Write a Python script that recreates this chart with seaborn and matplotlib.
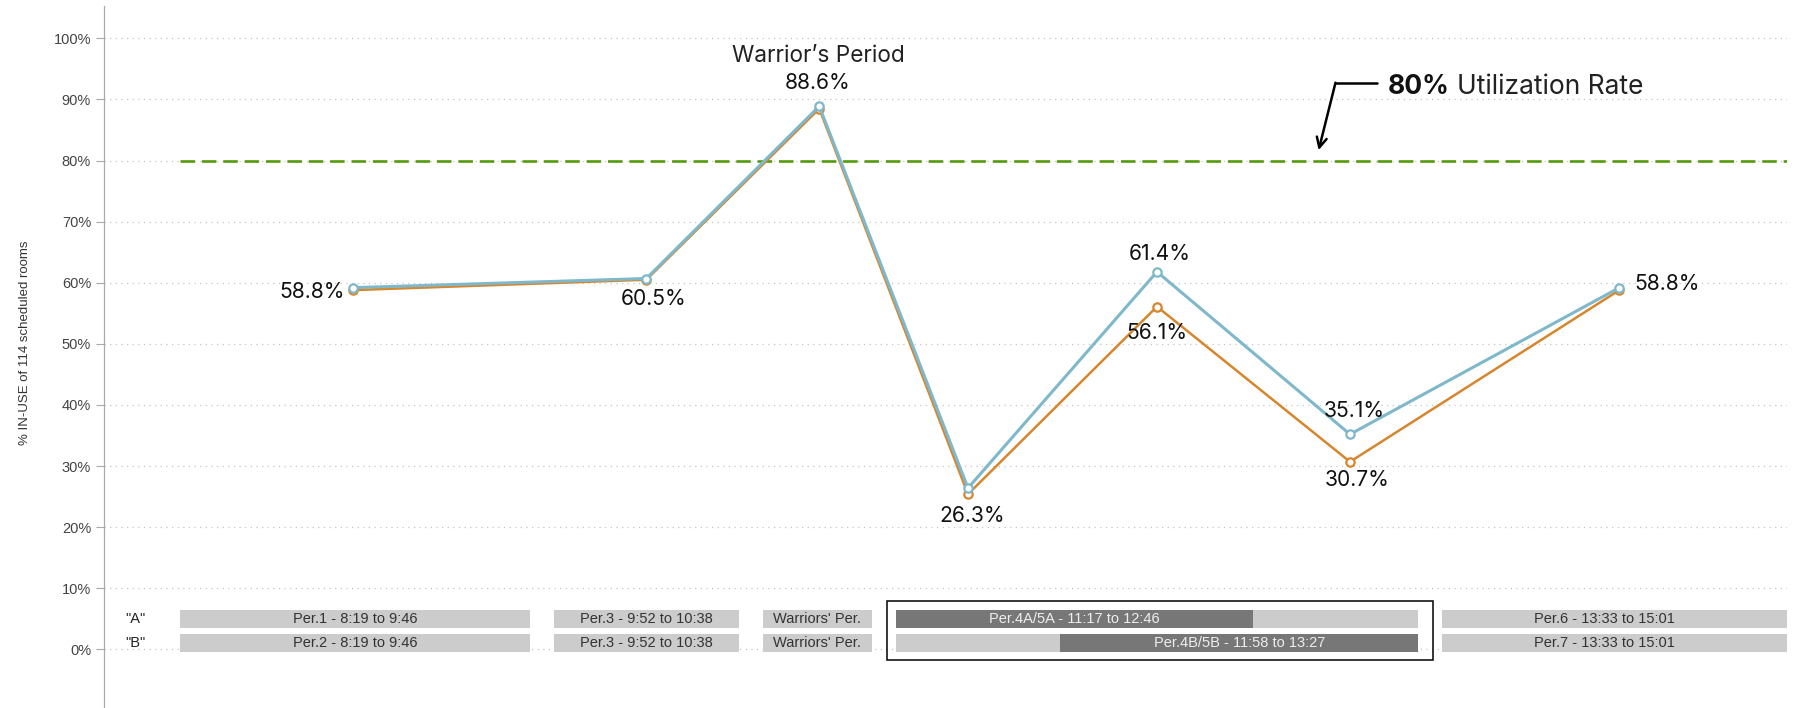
import numpy as np
import pandas as pd
import matplotlib
matplotlib.use('Agg')
import matplotlib.pyplot as plt
from matplotlib.patches import Rectangle
import seaborn as sns

# class periods where the room counts were taken (clock time)
point_times = ['9:02', '10:15', '10:58', '11:35', '12:22', '13:10', '14:17']
util_blue = [59.2, 60.7, 88.9, 26.4, 61.8, 35.2, 59.2]
util_orange = [58.8, 60.5, 88.5, 25.4, 56.1, 30.7, 58.8]

value_labels = ['58.8%', '60.5%', '88.6%', '26.3%', '61.4%', '56.1%', '35.1%', '30.7%', '58.8%']
label_point = [0, 1, 2, 3, 4, 4, 5, 5, 6]
label_series = ['blue', 'orange', 'blue', 'orange', 'blue', 'orange', 'blue', 'orange', 'blue']

# bell schedule rows "A" / "B"
sched_row = ['A', 'A', 'A', 'A', 'A', 'A',
             'B', 'B', 'B', 'B', 'B', 'B']
sched_start = ['8:19', '9:52', '10:44', '11:17', '11:17', '13:33',
               '8:19', '9:52', '10:44', '11:17', '11:58', '13:33']
sched_end = ['9:46', '10:38', '11:11', '13:27', '12:46', '15:01',
             '9:46', '10:38', '11:11', '13:27', '13:27', '15:01']
sched_dark = [False, False, False, False, True, False,
              False, False, False, False, True, False]
sched_label = ['Per.1 - 8:19 to 9:46', 'Per.3 - 9:52 to 10:38', "Warriors' Per.", '',
               'Per.4A/5A - 11:17 to 12:46', 'Per.6 - 13:33 to 15:01',
               'Per.2 - 8:19 to 9:46', 'Per.3 - 9:52 to 10:38', "Warriors' Per.", '',
               'Per.4B/5B - 11:58 to 13:27', 'Per.7 - 13:33 to 15:01']

target_rate = 80
y_ticks = list(range(0, 101, 10))


def to_min(t):
    h, m = t.split(':')
    return int(h) * 60 + int(m)


sns.set_style('white')
plt.rcParams['font.family'] = ['Liberation Sans', 'DejaVu Sans']
LABEL_FONT = ['Inter', 'DejaVu Sans']

df = pd.DataFrame({
    'time': [to_min(t) for t in point_times] * 2,
    'util': util_orange + util_blue,
    'series': ['orange'] * len(point_times) + ['blue'] * len(point_times),
})
series_vals = {'blue': util_blue, 'orange': util_orange}

fig = plt.figure(figsize=(17.98, 7.08), dpi=100)
ax = fig.add_axes([0.0576, 0.0, 0.9363, 0.9915])

XMIN, XMAX = 480, 898.7
ax.set_xlim(XMIN, XMAX)
ax.set_ylim(-9.6, 105.3)

# dotted grid
for v in y_ticks:
    ax.axhline(v, color='#c4c4c4', lw=0.9, ls=(0, (1, 3.5)), zorder=0)

# 80% target
ax.hlines(target_rate, to_min('8:19'), XMAX, color='#559a0c', lw=1.9,
          linestyles=[(0, (5.5, 2.6))], zorder=1)

# schedule bars
row_y = {'A': 5, 'B': 1}
for r, s, e, dark, lab in zip(sched_row, sched_start, sched_end, sched_dark, sched_label):
    s0, e0 = to_min(s), to_min(e)
    ax.barh(row_y[r], e0 - s0, left=s0, height=3.0,
            color='#777777' if dark else '#cccccc', edgecolor='none', zorder=2)
    if lab:
        cx = (s0 + min(e0, XMAX)) / 2 - (2.5 if e0 > XMAX else 0)
        ax.text(cx, row_y[r], lab, ha='center', va='center', fontsize=10.5,
                color='#eeeeee' if dark else '#333333', zorder=3)

for r in ['A', 'B']:
    ax.text(488, row_y[r], '"%s"' % r, ha='center', va='center', fontsize=10.5, color='#222222')

box_l, box_r = to_min('11:17') - 2.2, to_min('13:27') + 3.6
ax.add_patch(Rectangle((box_l, -1.75), box_r - box_l, 9.7, fill=False,
                       edgecolor='black', lw=1.1, zorder=3))

# lines
sns.lineplot(data=df[df.series == 'orange'], x='time', y='util', color='#d6862c',
             lw=1.8, marker='o', markersize=6, markerfacecolor='white',
             markeredgecolor='#d6862c', markeredgewidth=1.6, ax=ax, zorder=4)
sns.lineplot(data=df[df.series == 'blue'], x='time', y='util', color='#7fb8ca',
             lw=2.2, marker='o', markersize=6, markerfacecolor='white',
             markeredgecolor='#7fb8ca', markeredgewidth=1.6, ax=ax, zorder=5)

# value labels, offsets in pixels from the point
tm = [to_min(t) for t in point_times]
offsets = [(-8, -4, 'right'), (7, -19, 'center'), (-2, 23, 'center'),
           (4, -22, 'center'), (3, 18, 'center'), (0, -26, 'center'),
           (4, 23.5, 'center'), (7, -18, 'center'), (15, 4, 'left')]
for txt, i, ser, (dx, dy, ha) in zip(value_labels, label_point, label_series, offsets):
    ax.annotate(txt, (tm[i], series_vals[ser][i]), xytext=(dx, dy),
                textcoords='offset pixels', ha=ha, va='center', fontsize=15.2,
                color='#111111', family=LABEL_FONT, zorder=6)

ax.annotate("Warrior\u2019s Period", (tm[2], util_blue[2]), xytext=(-1, 50),
            textcoords='offset pixels', ha='center', va='center', fontsize=16.3,
            color='#222222', family=LABEL_FONT, zorder=6)

# 80% callout
t80 = ax.text(799.4, 92.1, '80%', ha='left', va='center', fontsize=19,
              fontweight='bold', color='#111111', family=LABEL_FONT)
ax.annotate('Utilization Rate', xy=(1, 0), xycoords=t80, xytext=(7, 0),
            textcoords='offset pixels', ha='left', va='bottom', fontsize=19,
            color='#222222', family=LABEL_FONT)
ax.plot([786.4, 796.7], [92.7, 92.7], color='black', lw=1.8)
ax.annotate('', xy=(782.2, 81.7), xytext=(786.4, 92.75),
            arrowprops=dict(arrowstyle='->', color='black', lw=1.8,
                            mutation_scale=18, shrinkA=0, shrinkB=0))

# axes styling
ax.set_yticks(y_ticks)
ax.set_yticklabels(['%d%%' % v for v in y_ticks])
ax.tick_params(axis='y', left=True, length=6, width=0.8, color='#aaaaaa',
               labelsize=10.5, labelcolor='#444444', pad=3)
ax.set_xticks([])
ax.set_xlabel('')
ax.set_ylabel('% IN-USE of 114 scheduled rooms', fontsize=9.5, color='#333333')
ax.yaxis.set_label_coords(-0.043, 0.521)
for side in ['top', 'right', 'bottom']:
    ax.spines[side].set_visible(False)
ax.spines['left'].set_color('#aaaaaa')
ax.spines['left'].set_linewidth(0.9)
leg = ax.get_legend()
if leg:
    leg.remove()

fig.savefig('out.png', dpi=100)
